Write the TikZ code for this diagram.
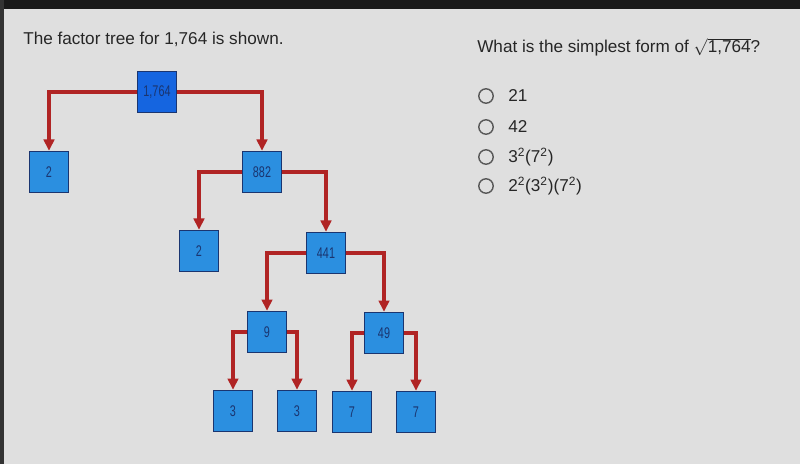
\documentclass[tikz,border=0pt]{standalone}
\usepackage{fontspec}
\setmainfont{Liberation Sans}
\newfontfamily\narrowfont[FakeStretch=0.7]{Liberation Sans}
\usetikzlibrary{positioning, arrows.meta}
\definecolor{boxblue}{HTML}{2B8FE0}
\definecolor{rootblue}{HTML}{1565E0}
\definecolor{boxedge}{HTML}{1A3570}
\definecolor{treered}{HTML}{B02424}
\definecolor{panelgrey}{HTML}{DFDFDF}
\tikzset{
	factor/.style={rectangle, draw=boxedge, line width=1.2pt, fill=boxblue, minimum width=0.97cm, minimum height=1.02cm, inner sep=0pt, font=\narrowfont\fontsize{11}{12}\selectfont, text=boxedge},
	branch/.style={draw=treered, line width=2.3pt, -{Triangle[width=7.5pt,length=8pt]}},
	choice/.style={circle, draw=black!65, line width=1pt, minimum size=0.36cm, inner sep=0pt},
	prompt/.style={anchor=base west, inner sep=0pt, font=\fontsize{12.2}{14}\selectfont, text=black!85}
}

\begin{document}
\begin{tikzpicture}[x=0.025cm, y=-0.025cm]
			\useasboundingbox (0,0) rectangle (800,464);
			\fill[panelgrey] (0,0) rectangle (800,464);
			\fill[black!90] (0,0) rectangle (800,9);
			\fill[black!80] (0,0) rectangle (4,464);
			% tree
			\node[factor, fill=rootblue] (root) at (157,92) {1,764};
			\node[factor] (twoA) at (49,172) {2};
			\node[factor] (n882) at (262,172) {882};
			\node[factor] (twoB) at (199,251) {2};
			\node[factor] (n441) at (326,253) {441};
			\node[factor] (n9) at (267,332) {9};
			\node[factor] (n49) at (384,333) {49};
			\node[factor] (threeA) at (233,411) {3};
			\node[factor] (threeB) at (297,411) {3};
			\node[factor] (sevenA) at (352,412) {7};
			\node[factor] (sevenB) at (416,412) {7};
			\draw[branch] (root.west) -| (twoA.north);
			\draw[branch] (root.east) -| (n882.north);
			\draw[branch] (n882.west) -| (twoB.north);
			\draw[branch] (n882.east) -| (n441.north);
			\draw[branch] (n441.west) -| (n9.north);
			\draw[branch] (n441.east) -| (n49.north);
			\draw[branch] (n9.west) -| (threeA.north);
			\draw[branch] (n9.east) -| (threeB.north);
			\draw[branch] (n49.west) -| (sevenA.north);
			\draw[branch] (n49.east) -| (sevenB.north);
			% text
			\node[prompt] (title) at (23,45) {The factor tree for 1,764 is shown.};
			\node[prompt] (question) at (477,53) {What is the simplest form of $\sqrt{\mbox{1,764}}$?};
			\node[choice] (c1) at (486,96) {};
			\node[choice] (c2) at (486,127) {};
			\node[choice] (c3) at (486,157) {};
			\node[choice] (c4) at (486,186) {};
			\node[prompt, anchor=west] (a1) at (508,96) {21};
			\node[prompt, anchor=west] (a2) at (508,127) {42};
			\node[prompt, anchor=west] (a3) at (508,157) {3\textsuperscript{2}(7\textsuperscript{2})};
			\node[prompt, anchor=west] (a4) at (508,186) {2\textsuperscript{2}(3\textsuperscript{2})(7\textsuperscript{2})};
		\end{tikzpicture}
\end{document}
